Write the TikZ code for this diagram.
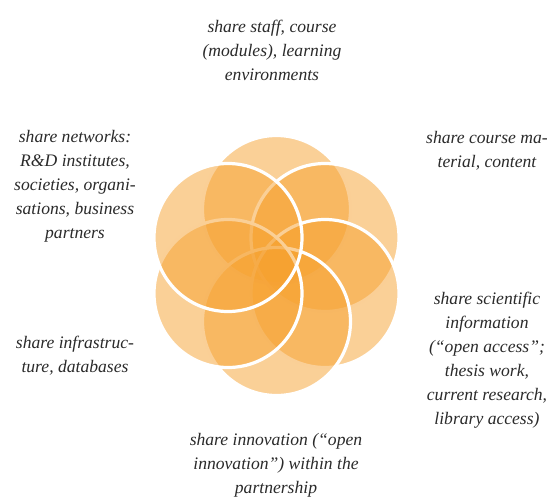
\documentclass[tikz,border=0pt]{standalone}
\usepackage{fontspec}
\setmainfont{Liberation Serif}
\definecolor{petal}{HTML}{F6A12F}
\definecolor{txt}{HTML}{2A2A2A}
\tikzset{
  petalstyle/.style={fill=petal, fill opacity=0.5, draw=white, line width=3.2pt},
  lbl/.style={align=center, inner sep=0pt, text=txt, font=\itshape\fontsize{17.6}{24}\selectfont}
}
\begin{document}
\begin{tikzpicture}[x=1pt,y=-1pt]
\useasboundingbox (0,0) rectangle (552,498);
\coordinate (cT) at (276.5,209.5);
\coordinate (cUR) at (325,237.5);
\coordinate (cLR) at (325,293.5);
\coordinate (cB) at (276.5,321.5);
\coordinate (cLL) at (228,293.5);
\coordinate (cUL) at (228,237.5);
\foreach \c in {cT,cUR,cLR,cB,cLL,cUL}{
  \path[petalstyle] (\c) circle[radius=74];
}
\node[lbl] (staff) at (272,50) {share staff, course\\(modules), learning\\environments};
\node[lbl] (material) at (487,151) {share course ma-\\terial, content};
\node[lbl] (networks) at (75,186) {share networks:\\R\&D institutes,\\societies, organi-\\sations, business\\partners};
\node[lbl] (science) at (487,360) {share scientific\\information\\(“open access”;\\thesis work,\\current research,\\library access)};
\node[lbl] (infra) at (75,356) {share infrastruc-\\ture, databases};
\node[lbl] (innov) at (276,465) {share innovation (“open\\innovation”) within the\\partnership};
\end{tikzpicture}
\end{document}
